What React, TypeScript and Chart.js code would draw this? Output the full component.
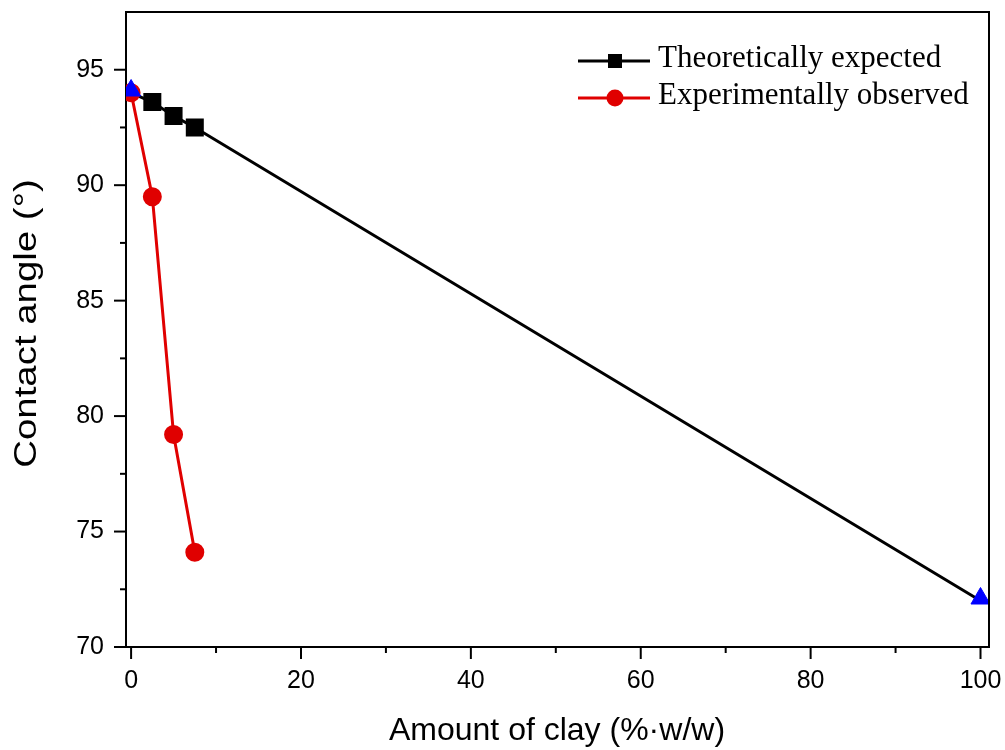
import React, { useEffect, useRef } from "react";
import { Chart, registerables } from "chart.js";

Chart.register(...registerables);

const theoX = [0, 2.5, 5, 7.5, 100];
const theoY = [94.0, 93.6, 93.0, 92.5, 72.0];
const expX = [0, 2.5, 5, 7.5];
const expY = [94.0, 89.5, 79.2, 74.1];
const pureX = [0, 100];
const pureY = [94.1, 72.1];
const seriesLabels = ["Theoretically expected", "Experimentally observed"];
const xTitle = "Amount of clay (%·w/w)";
const yTitle = "Contact angle (°)";

const toPts = (xs: number[], ys: number[]) => xs.map((x, i) => ({ x, y: ys[i] }));

const SANS = "'Liberation Sans', Arial, sans-serif";
const SERIF = "'Liberation Serif', 'Times New Roman', serif";

const framePlugin = {
  id: "frame",
  afterDraw(chart: any) {
    const { ctx, chartArea: a, scales } = chart;
    ctx.save();
    ctx.strokeStyle = "#000";
    ctx.lineWidth = 2;
    ctx.beginPath();
    ctx.moveTo(a.left, a.top);
    ctx.lineTo(a.right, a.top);
    ctx.lineTo(a.right, a.bottom);
    ctx.stroke();
    // tick marks (major longer, minor shorter)
    const xs = scales.x;
    for (const t of xs.ticks) {
      const px = xs.getPixelForValue(t.value);
      const len = t.value % 20 === 0 ? 12 : 6;
      ctx.beginPath();
      ctx.moveTo(px, a.bottom);
      ctx.lineTo(px, a.bottom + len);
      ctx.stroke();
    }
    const ys = scales.y;
    for (const t of ys.ticks) {
      if (t.value > 97) continue;
      const py = ys.getPixelForValue(t.value);
      const len = t.value % 5 === 0 ? 12 : 6;
      ctx.beginPath();
      ctx.moveTo(a.left, py);
      ctx.lineTo(a.left - len, py);
      ctx.stroke();
    }
    // axis titles
    ctx.fillStyle = "#000";
    ctx.font = `32px ${SANS}`;
    ctx.textAlign = "center";
    ctx.textBaseline = "alphabetic";
    ctx.fillText(xTitle, 557, 740);
    ctx.save();
    ctx.translate(36, (a.top + a.bottom) / 2 - 6);
    ctx.rotate(-Math.PI / 2);
    ctx.scale(1.2, 1);
    ctx.fillText(yTitle, 0, 0);
    ctx.restore();
    ctx.restore();
  },
};

const legendPlugin = {
  id: "customLegend",
  afterDraw(chart: any) {
    const { ctx } = chart;
    const items = [
      { label: seriesLabels[0], color: "#000", style: "rect", y: 61, base: 67 },
      { label: seriesLabels[1], color: "#e00000", style: "circle", y: 98, base: 104 },
    ];
    ctx.save();
    for (const it of items) {
      ctx.strokeStyle = it.color;
      ctx.fillStyle = it.color;
      ctx.lineWidth = 3;
      ctx.beginPath();
      ctx.moveTo(578, it.y);
      ctx.lineTo(650, it.y);
      ctx.stroke();
      if (it.style === "rect") {
        ctx.fillRect(615 - 7, it.y - 7, 14, 14);
      } else {
        ctx.beginPath();
        ctx.arc(615, it.y, 8.5, 0, Math.PI * 2);
        ctx.fill();
      }
      ctx.fillStyle = "#000";
      ctx.font = `31px ${SERIF}`;
      ctx.textBaseline = "alphabetic";
      ctx.textAlign = "left";
      ctx.fillText(it.label, 658, it.base);
    }
    ctx.restore();
  },
};

export default function App() {
  const ref = useRef<HTMLCanvasElement | null>(null);

  useEffect(() => {
    if (!ref.current) return;
    const chart = new Chart(ref.current, {
      type: "scatter",
      data: {
        datasets: [
          {
            label: "pure",
            data: toPts(pureX, pureY),
            showLine: false,
            pointStyle: "triangle",
            pointRadius: 11,
            backgroundColor: "#0000ff",
            borderColor: "#0000ff",
            borderWidth: 1,
            order: 0,
          },
          {
            label: seriesLabels[1],
            data: toPts(expX, expY),
            showLine: true,
            borderColor: "#e00000",
            backgroundColor: "#e00000",
            borderWidth: 3,
            pointStyle: "circle",
            pointRadius: 8,
            order: 1,
          },
          {
            label: seriesLabels[0],
            data: toPts(theoX, theoY),
            showLine: true,
            borderColor: "#000",
            backgroundColor: "#000",
            borderWidth: 3,
            pointStyle: "rect",
            pointRadius: (c: any) => (c.raw && (c.raw.x === 0 || c.raw.x === 100) ? 0 : 10.6),
            order: 2,
          },
        ],
      },
      options: {
        responsive: false,
        animation: false,
        layout: { padding: { left: 0, top: 10, right: 16, bottom: 0 } },
        plugins: { legend: { display: false }, tooltip: { enabled: false } },
        scales: {
          x: {
            type: "linear",
            min: -0.6,
            max: 101,
            afterFit: (s: any) => {
              s.height = 103;
              s.paddingLeft = 0;
              s.paddingRight = 0;
            },
            border: { display: true, color: "#000", width: 2 },
            grid: { display: false, drawTicks: false, drawOnChartArea: false },
            ticks: {
              stepSize: 10,
              includeBounds: false,
              autoSkip: false,
              maxRotation: 0,
              padding: 19,
              color: "#000",
              font: { family: SANS, size: 25 },
              callback: (v: any) => (Number(v) % 20 === 0 ? String(v) : ""),
            },
            title: { display: false },
          },
          y: {
            type: "linear",
            min: 70,
            max: 97.5,
            afterFit: (s: any) => {
              s.width = 126;
              s.paddingTop = 0;
              s.paddingBottom = 0;
            },
            border: { display: true, color: "#000", width: 2 },
            grid: { display: false, drawTicks: false, drawOnChartArea: false },
            ticks: {
              stepSize: 2.5,
              includeBounds: false,
              autoSkip: false,
              padding: 22,
              color: "#000",
              font: { family: SANS, size: 25 },
              callback: (v: any) => (Number(v) % 5 === 0 ? String(v) : ""),
            },
            title: { display: false },
          },
        },
      },
      plugins: [framePlugin, legendPlugin],
    });
    return () => chart.destroy();
  }, []);

  return (
    <div style={{ position: "absolute", left: 0, top: 0, width: 1005, height: 750, background: "#fff" }}>
      <canvas ref={ref} width={1005} height={750} />
    </div>
  );
}
